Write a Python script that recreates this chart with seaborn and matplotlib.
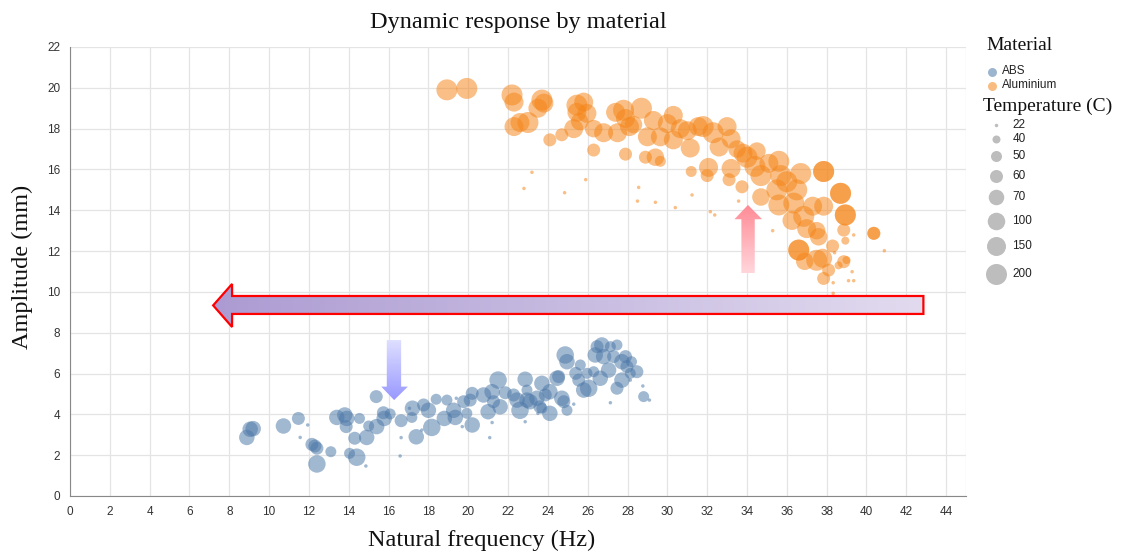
import numpy as np
import pandas as pd
import seaborn as sns
import matplotlib.pyplot as plt
from matplotlib.patches import Polygon
from matplotlib.colors import LinearSegmentedColormap

# ABS samples
abs_freq = [9.05, 9.2, 8.88, 10.72, 11.47, 11.94, 11.56, 12.15, 12.3, 12.4, 12.4, 13.1, 13.4, 13.8, 13.9,
            13.87, 14.54, 14.3, 14.04, 14.4, 14.86, 14.9, 15.0, 15.38, 15.4, 15.74, 15.78, 16.08, 16.63,
            16.63, 16.58, 17.05, 17.17, 17.2, 17.39, 17.76, 18.0, 18.17, 18.39, 18.8, 18.93, 17.67,
            19.27, 19.35, 19.4, 19.77, 19.93, 20.2, 20.2, 20.1, 20.77, 21.0, 21.2, 21.27, 21.5, 21.6,
            21.86, 22.28, 22.45, 22.6, 22.86, 22.95, 22.95, 22.86, 23.1, 23.45, 23.7, 23.6, 23.7, 24.1,
            23.87, 24.1, 24.46, 24.54, 24.7, 24.8, 24.96, 24.87, 24.96, 25.3, 25.4, 25.63, 25.55, 25.8,
            26.05, 25.97, 26.3, 26.38, 26.47, 26.71, 26.8, 26.63, 27.05, 27.14, 27.3, 27.47, 27.47,
            27.72, 27.72, 27.9, 27.97, 28.14, 28.47, 28.77, 27.14, 28.81, 29.1, 28.14, 28.2, 21.08,
            21.2, 23.5, 19.7]
abs_amp = [3.27, 3.3, 2.87, 3.43, 3.8, 3.48, 2.87, 2.53, 2.45, 2.34, 1.57, 2.17, 3.85, 3.97, 3.8,
           3.4, 3.8, 2.83, 2.09, 1.9, 1.47, 2.87, 3.43, 4.87, 3.4, 4.08, 3.8, 4.02, 3.69,
           2.86, 1.96, 4.3, 3.85, 4.3, 2.9, 4.46, 4.2, 3.36, 4.74, 3.8, 4.7, 3.23,
           4.2, 3.85, 4.79, 4.62, 4.05, 3.48, 5.03, 4.7, 4.95, 4.13, 5.11, 4.62, 5.68, 4.37,
           5.06, 4.95, 4.7, 4.2, 5.72, 5.19, 4.7, 3.64, 4.62, 4.79, 5.52, 4.37, 4.3, 4.05,
           4.95, 5.11, 5.77, 5.85, 4.79, 4.62, 4.2, 6.91, 6.58, 4.5, 6.01, 6.42, 5.68, 5.19,
           5.28, 6.01, 6.09, 6.91, 7.32, 7.4, 6.83, 5.77, 6.17, 7.32, 6.83, 7.4, 5.28,
           5.68, 6.58, 6.83, 6.34, 6.01, 6.09, 5.39, 4.57, 4.87, 4.7, 5.68, 6.58, 2.86,
           3.6, 4.05, 3.4]
abs_temp = [70, 70, 70, 70, 60, 22, 22, 60, 60, 60, 100, 50, 70, 70, 70,
            60, 50, 60, 50, 100, 22, 70, 50, 60, 70, 60, 70, 50, 60,
            22, 22, 22, 50, 70, 70, 60, 70, 100, 50, 70, 50, 22,
            70, 70, 22, 60, 50, 70, 60, 60, 70, 70, 70, 60, 100, 70,
            60, 60, 70, 100, 70, 50, 70, 22, 70, 70, 70, 60, 50, 70,
            60, 70, 70, 60, 70, 60, 50, 100, 70, 22, 60, 50, 60, 70,
            100, 50, 50, 70, 60, 70, 70, 70, 70, 50, 60, 50, 60,
            70, 70, 60, 60, 50, 60, 22, 22, 50, 22, 22, 50, 22,
            22, 22, 22]

# Aluminium samples
alu_freq = [18.93, 19.93, 22.2, 22.3, 23.7, 23.8, 23.5, 22.3, 22.6, 23.0, 24.1, 24.7, 25.3, 25.46,
            25.46, 25.8, 25.96, 25.6, 26.3, 26.8, 26.3, 27.5, 27.4, 27.8, 27.9, 28.1, 28.3, 27.9,
            28.7, 29.0, 29.3, 28.9, 29.4, 29.65, 29.65, 30.0, 30.3, 30.3, 30.65, 31.0, 31.15, 31.2,
            31.55, 23.2, 22.8, 24.84, 25.9, 28.56, 28.5, 29.4, 30.4, 31.24,
            32.07, 32.0, 32.3, 32.6, 33.2, 33.1, 33.2, 33.75, 34.0, 34.4, 34.7, 34.7, 35.1, 35.6,
            35.7, 35.5, 35.6, 36.0, 36.5, 36.7, 36.35, 36.26, 36.85, 37.0, 37.3, 37.85, 37.85, 37.85,
            37.5, 37.6, 36.6, 36.6, 36.9, 37.5, 37.8, 38.3, 38.1, 37.85, 38.7, 38.7, 38.94, 38.94,
            38.86, 38.86, 40.37, 40.37, 32.16, 32.38, 33.58, 35.29, 39.36, 38.94, 40.9, 38.4, 39.28,
            39.1, 39.36, 38.33, 38.33, 38.6, 39.0, 31.8, 33.0, 33.8, 34.5, 33.5]
alu_amp = [19.9, 19.97, 19.65, 19.3, 19.4, 19.25, 19.0, 18.1, 18.3, 18.3, 17.45, 17.7, 18.0, 19.15,
           18.8, 19.3, 18.75, 18.35, 18.0, 17.8, 16.95, 17.8, 18.8, 18.9, 18.5, 18.1, 18.2, 16.75,
           19.0, 17.6, 18.4, 16.6, 16.6, 16.4, 17.6, 18.25, 18.65, 17.45, 18.0, 17.9, 17.05, 15.9,
           18.1, 15.86, 15.07, 14.86, 15.5, 15.12, 14.45, 14.39, 14.13, 14.75,
           16.1, 15.7, 17.8, 17.1, 17.5, 15.5, 16.05, 15.15, 16.6, 16.15, 15.7, 14.65, 16.3, 16.4,
           15.7, 15.0, 14.26, 15.4, 15.0, 15.8, 14.35, 13.5, 13.7, 13.1, 14.2, 14.2, 15.9, 15.9,
           13.0, 12.7, 12.05, 12.05, 11.5, 11.55, 11.65, 12.25, 11.07, 10.66, 14.83, 14.83, 13.77, 13.77,
           13.03, 11.48, 12.87, 12.87, 13.93, 13.77, 14.45, 13.0, 12.79, 12.51, 12.02, 11.92, 10.99,
           10.55, 10.55, 10.45, 9.93, 11.3, 11.56, 18.1, 18.1, 16.8, 16.9, 17.0]
alu_temp = [200, 200, 200, 150, 200, 150, 150, 150, 150, 200, 60, 60, 150, 200,
            150, 150, 150, 100, 100, 150, 60, 150, 150, 200, 150, 150, 100, 60,
            200, 150, 150, 60, 100, 50, 150, 150, 150, 150, 150, 150, 150, 50,
            150, 22, 22, 22, 22, 22, 22, 22, 22, 22,
            150, 60, 200, 150, 150, 60, 150, 60, 200, 200, 200, 100, 150, 200,
            200, 200, 200, 200, 200, 200, 200, 150, 200, 150, 150, 150, 200, 200,
            100, 100, 200, 200, 100, 200, 150, 60, 60, 60, 200, 200, 200, 200,
            60, 60, 60, 60, 22, 22, 22, 22, 22, 40, 22, 22, 22,
            22, 22, 22, 22, 40, 40, 200, 150, 150, 100, 100]

temp_levels = [22, 40, 50, 60, 70, 100, 150, 200]
temp_diam_px = [3.5, 8, 11, 13, 15.5, 17.5, 19, 21]
materials = ["ABS", "Aluminium"]
colors = ["#4c78a8", "#f58518"]

df = pd.DataFrame({
    "freq": abs_freq + alu_freq,
    "amp": abs_amp + alu_amp,
    "Temperature": abs_temp + alu_temp,
    "Material": ["ABS"] * len(abs_freq) + ["Aluminium"] * len(alu_freq),
})

# marker area in pt^2 from pixel diameter at 100 dpi
size_map = {t: (d * 0.72) ** 2 for t, d in zip(temp_levels, temp_diam_px)}

sns.set_style("white")
serif = ["Liberation Serif", "DejaVu Serif"]
sans = ["Liberation Sans", "DejaVu Sans"]

fig = plt.figure(figsize=(11.21, 5.53), dpi=100)
ax = fig.add_axes([70 / 1121, 1 - 496 / 553, 896 / 1121, 449 / 553])

sns.scatterplot(data=df, x="freq", y="amp", hue="Material", hue_order=materials,
                palette=dict(zip(materials, colors)), size="Temperature", sizes=size_map,
                alpha=0.52, linewidth=0, legend=False, ax=ax, zorder=2)


def gradient_arrow(ax, verts, c_start, c_end, vertical, edge="none"):
    poly = Polygon(verts, closed=True, facecolor="none", edgecolor=edge, lw=1.6, zorder=5)
    ax.add_patch(poly)
    xs = [v[0] for v in verts]
    ys = [v[1] for v in verts]
    grad = np.linspace(0, 1, 256)
    grad = grad.reshape(-1, 1) if vertical else grad.reshape(1, -1)
    cmap = LinearSegmentedColormap.from_list("g", [c_start, c_end])
    im = ax.imshow(grad, cmap=cmap, extent=[min(xs), max(xs), min(ys), max(ys)],
                   origin="lower", aspect="auto", zorder=4, interpolation="bilinear")
    im.set_clip_path(poly)


# annotation arrows
gradient_arrow(ax, [(7.19, 9.34), (8.14, 10.39), (8.14, 9.8), (42.86, 9.8), (42.86, 8.92),
                    (8.14, 8.92), (8.14, 8.28)], "#ac9bd2", "#e2dbef", vertical=False, edge="#ff0000")
gradient_arrow(ax, [(33.72, 10.91), (33.72, 13.56), (33.37, 13.56), (34.05, 14.26), (34.76, 13.56),
                    (34.39, 13.56), (34.39, 10.91)], "#ffd6db", "#ff8a95", vertical=True)
gradient_arrow(ax, [(15.91, 7.64), (15.91, 5.36), (15.63, 5.36), (16.28, 4.70), (16.97, 5.36),
                    (16.63, 5.36), (16.63, 7.64)], "#9898ff", "#e0e0ff", vertical=True)

ax.set_xlim(0, 45)
ax.set_ylim(0, 22)
ax.set_xticks(range(0, 45, 2))
ax.set_yticks(range(0, 23, 2))
ax.grid(True, color="#e4e4e4", lw=0.9)
ax.axvline(45, color="#e4e4e4", lw=0.9)
ax.set_axisbelow(True)
for s in ["top", "right"]:
    ax.spines[s].set_visible(False)
for s in ["left", "bottom"]:
    ax.spines[s].set_color("#888888")
ax.tick_params(axis="both", length=4, width=0.8, color="#888888", labelsize=8.5,
               labelcolor="#333333", pad=3)
for lab in ax.get_xticklabels() + ax.get_yticklabels():
    lab.set_family(sans)

ax.set_xlabel("Natural frequency (Hz)", family=serif, fontsize=17.5, color="#111111")
ax.set_ylabel("Amplitude (mm)", family=serif, fontsize=17.5, color="#111111")
ax.xaxis.set_label_coords(0.459, -0.075)
ax.yaxis.set_label_coords(-0.041, 0.51)
fig.text(518 / 1121, 1 - 22.5 / 553, "Dynamic response by material", family=serif,
         fontsize=17.5, ha="center", va="center", color="#111111")

# legend drawn in pixel space
lax = fig.add_axes([0, 0, 1, 1])
lax.set_xlim(0, 1121)
lax.set_ylim(553, 0)
lax.axis("off")
lax.patch.set_alpha(0)

lax.text(986, 45, "Material", family=serif, fontsize=14, va="center", color="#111111")
for name, col, yy in zip(materials, colors, [71.5, 85.5]):
    lax.scatter([992], [yy], s=(9 * 0.72) ** 2, color=col, alpha=0.55, linewidths=0)
    lax.text(1002, yy, name, family=sans, fontsize=8.5, va="center", color="#222222")

lax.text(983, 106.5, "Temperature (C)", family=serif, fontsize=14, va="center", color="#111111")
legend_y = [125, 139, 155.7, 175.7, 196.7, 221, 246, 274.3]
for t, yy in zip(temp_levels, legend_y):
    lax.scatter([996], [yy], s=size_map[t], color="#bdbdbd", linewidths=0)
    lax.text(1012.5, yy, str(t), family=sans, fontsize=8.5, va="center", color="#222222")

fig.savefig("out.png", dpi=100)
